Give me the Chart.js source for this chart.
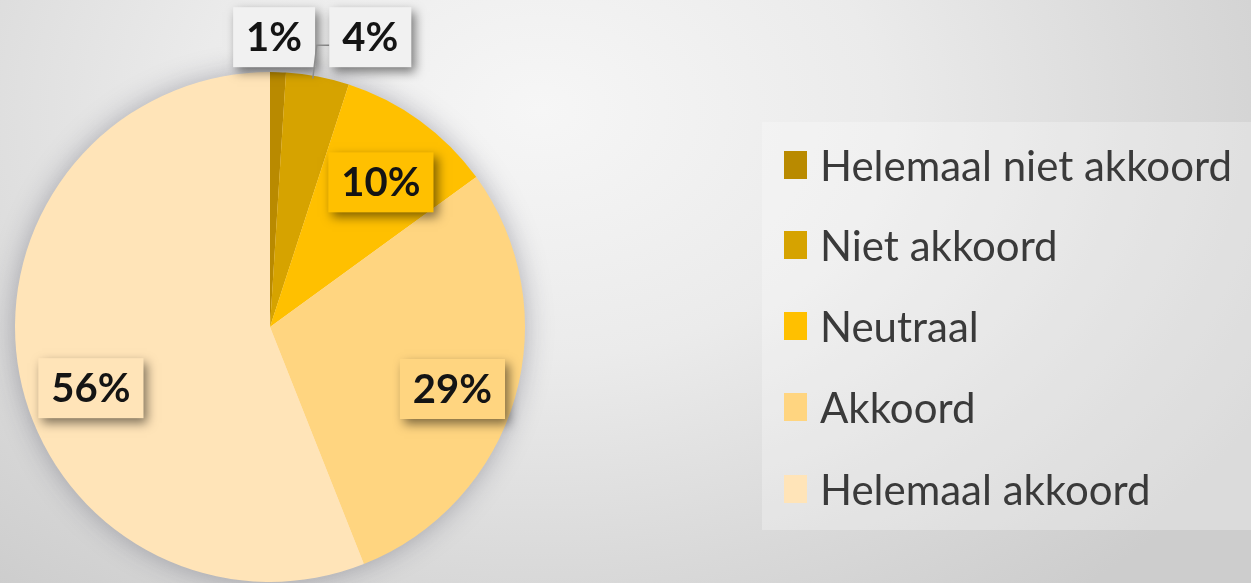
<!DOCTYPE html>
<html>
<head>
<meta charset="utf-8">
<script src="https://cdn.jsdelivr.net/npm/chart.js@4"></script>
<style>
  html, body { margin: 0; padding: 0; }
  #wrap {
    position: relative;
    width: 1251px;
    height: 583px;
    overflow: hidden;
    background: radial-gradient(ellipse 850px 620px at 540px 110px, #f6f6f6 0%, #ebebeb 40%, #d9d9d9 75%, #cdcdcd 100%);
  }
  #legend {
    position: absolute;
    left: 762px;
    top: 122px;
    width: 489px;
    height: 408px;
    background: rgba(255, 255, 255, 0.28);
    font-family: Lato, "Open Sans", sans-serif;
    font-size: 42px;
    color: #3a3a3a;
  }
  .item {
    position: absolute;
    left: 22px;
    height: 42px;
    display: flex;
    align-items: center;
    white-space: nowrap;
  }
  .box {
    width: 23px;
    height: 28px;
    margin-right: 13px;
  }
</style>
</head>
<body>
<div id="wrap">
  <canvas id="pie" width="1251" height="583"></canvas>
  <div id="legend"></div>
</div>
<script>
// answer categories and share of respondents (%)
const labels = ["Helemaal niet akkoord", "Niet akkoord", "Neutraal", "Akkoord", "Helemaal akkoord"];
const values = [1, 4, 10, 29, 56];
const colors = ["#B98A00", "#D6A300", "#FFC000", "#FFD580", "#FFE4B8"];

// where each label box sits: radius fraction + small nudge
const labelPos = [
  { f: 1.137, dx: -5, dy: 0, outside: true },
  { f: 1.137, dx: 46, dy: -5, outside: true, leader: true },
  { f: 0.74, dx: 0, dy: 8 },
  { f: 0.745, dx: 0, dy: 9 },
  { f: 0.715, dx: 0, dy: 27 },
];

// soft shadow behind the whole pie
const pieShadow = {
  id: "pieShadow",
  beforeDatasetsDraw(chart) {
    const arc = chart.getDatasetMeta(0).data[0];
    const p = arc.getProps(["x", "y", "outerRadius"], true);
    const ctx = chart.ctx;
    ctx.save();
    ctx.shadowColor = "rgba(40, 40, 60, 0.35)";
    ctx.shadowBlur = 28;
    ctx.fillStyle = "#FFE4B8";
    ctx.beginPath();
    ctx.arc(p.x, p.y, p.outerRadius - 1, 0, Math.PI * 2);
    ctx.fill();
    ctx.restore();
  },
};

// percentage labels in boxes with a drop shadow
const boxLabels = {
  id: "boxLabels",
  afterDatasetsDraw(chart) {
    const ctx = chart.ctx;
    const meta = chart.getDatasetMeta(0);
    ctx.save();
    ctx.font = "bold 40px Lato, 'Open Sans', sans-serif";
    ctx.textAlign = "center";
    ctx.textBaseline = "middle";
    meta.data.forEach((arc, i) => {
      const p = arc.getProps(["x", "y", "startAngle", "endAngle", "outerRadius"], true);
      const mid = (p.startAngle + p.endAngle) / 2;
      const lp = labelPos[i];
      const tx = p.x + Math.cos(mid) * p.outerRadius * lp.f + lp.dx;
      const ty = p.y + Math.sin(mid) * p.outerRadius * lp.f + lp.dy;
      const text = values[i] + "%";
      const w = ctx.measureText(text).width + 26;
      const h = 60;

      if (lp.leader) {
        const ex = p.x + Math.cos(mid) * p.outerRadius;
        const ey = p.y + Math.sin(mid) * p.outerRadius;
        ctx.strokeStyle = "#8c8c8c";
        ctx.lineWidth = 1.5;
        ctx.beginPath();
        ctx.moveTo(ex - 5, ey + 2);
        ctx.lineTo(ex - 1, ty + 8);
        ctx.lineTo(tx - w / 2, ty + 8);
        ctx.stroke();
      }

      ctx.save();
      ctx.shadowColor = "rgba(0, 0, 0, 0.5)";
      ctx.shadowBlur = 10;
      ctx.shadowOffsetX = 4;
      ctx.shadowOffsetY = 5;
      ctx.fillStyle = lp.outside ? "#f1f1f1" : colors[i];
      ctx.fillRect(tx - w / 2, ty - h / 2, w, h);
      ctx.restore();

      ctx.fillStyle = "#141414";
      ctx.fillText(text, tx, ty + 1);
    });
    ctx.restore();
  },
};

new Chart(document.getElementById("pie"), {
  type: "pie",
  data: {
    labels: labels,
    datasets: [
      {
        data: values,
        backgroundColor: colors,
        borderWidth: 0,
      },
    ],
  },
  options: {
    responsive: false,
    animation: false,
    layout: { padding: { left: 15, right: 726, top: 72, bottom: 1 } },
    plugins: {
      legend: { display: false },
      tooltip: { enabled: false },
    },
  },
  plugins: [pieShadow, boxLabels],
});

// legend on the right, built from the same arrays
const legendEl = document.getElementById("legend");
const rowTop = [22, 102, 183, 264, 346];
labels.forEach((lab, i) => {
  const item = document.createElement("div");
  item.className = "item";
  item.style.top = rowTop[i] + "px";
  item.innerHTML = '<span class="box" style="background:' + colors[i] + '"></span><span>' + lab + "</span>";
  legendEl.appendChild(item);
});
</script>
</body>
</html>
